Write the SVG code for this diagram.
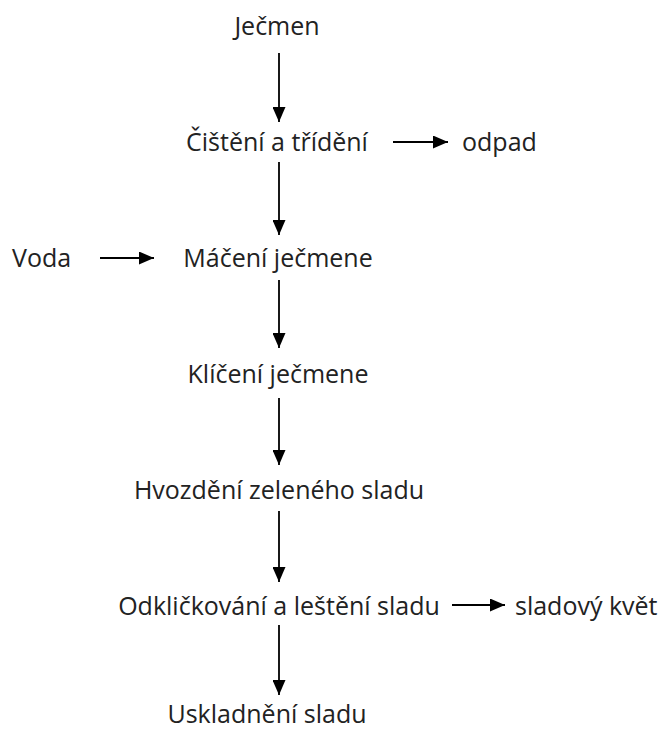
<svg xmlns="http://www.w3.org/2000/svg" width="664" height="731" viewBox="0 0 664 731">
<style>
text{font-family:"Open Sans","Noto Sans","DejaVu Sans",sans-serif;font-size:25px;fill:#222;}
.c{text-anchor:middle;}
.e line{stroke:#000;stroke-width:1.8;marker-end:url(#ah);}
</style>
<defs>
<marker id="ah" viewBox="0 0 15 13" refX="15" refY="6.5" markerWidth="15" markerHeight="13" markerUnits="userSpaceOnUse" orient="auto">
<path d="M0,0 L15,6.5 L0,13 Z" fill="#000"/>
</marker>
</defs>
<rect width="664" height="731" fill="#fff"/>
<g id="n1"><text class="c" x="277" y="35">Ječmen</text></g>
<g id="n2"><text class="c" x="277" y="151">Čištění a třídění</text></g>
<g id="n3"><text x="462" y="151">odpad</text></g>
<g id="n4"><text x="12" y="267">Voda</text></g>
<g id="n5"><text class="c" x="278" y="267">Máčení ječmene</text></g>
<g id="n6"><text class="c" x="278" y="383">Klíčení ječmene</text></g>
<g id="n7"><text class="c" x="279" y="499">Hvozdění zeleného sladu</text></g>
<g id="n8"><text class="c" x="279" y="615">Odkličkování a leštění sladu</text></g>
<g id="n9"><text x="515" y="615">sladový květ</text></g>
<g id="n10"><text class="c" x="267" y="723">Uskladnění sladu</text></g>
<g id="edges" class="e">
<line x1="279" y1="53" x2="279" y2="122"/>
<line x1="393" y1="142" x2="448" y2="142"/>
<line x1="279" y1="162" x2="279" y2="235"/>
<line x1="100" y1="258" x2="154" y2="258"/>
<line x1="279" y1="280" x2="279" y2="348"/>
<line x1="279" y1="398" x2="279" y2="465"/>
<line x1="279" y1="511" x2="279" y2="582"/>
<line x1="452" y1="605" x2="505" y2="605"/>
<line x1="279" y1="625" x2="279" y2="695"/>
</g>
</svg>
